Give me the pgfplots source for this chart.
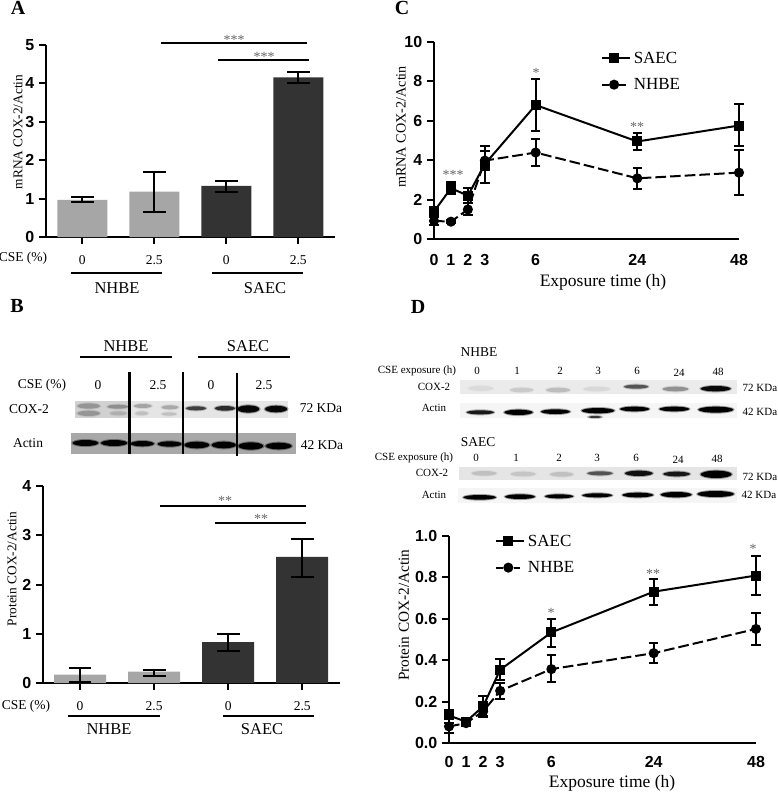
\documentclass[border=0pt]{standalone}
\usepackage{fontspec}
\setmainfont{Liberation Serif}
\setsansfont{Liberation Sans}
\usepackage{pgfplots}
\pgfplotsset{compat=1.18}

% sizes are given in reference pixels: 1 px = 0.75 pt
\newcommand{\fpx}[1]{\fontsize{\fpeval{#1*0.75}pt}{\fpeval{#1*0.9}pt}\selectfont}
% blot band: x left, x right, y centre, half height, darkness
\newcommand{\band}[5]{%
  \fill[black,opacity=0.35*#5] ({(#1+#2)/2},#3) ellipse [x radius={(#2-#1)/2+4},y radius={#4+3}];
  \fill[black,opacity=#5] ({(#1+#2)/2},#3) ellipse [x radius={(#2-#1)/2},y radius=#4];}

\definecolor{lightbar}{HTML}{A6A6A6}
\definecolor{darkbar}{HTML}{333333}
\definecolor{stargray}{HTML}{666666}

\pgfplotsset{
  panel/.style={
    scale only axis,
    axis lines=left,
    axis line style={-,line width=1.5pt},
    enlargelimits=false,
    clip=false,
    tick align=outside,
    major tick length=5.25pt,
    tick style={line width=1.5pt,black},
    tick label style={font=\sffamily\bfseries\fpx{16}},
    /pgf/number format/assume math mode=true,
    label style={font=\fpx{13.7}},
  },
  barpanel/.style={
    panel,
    ybar,
    bar shift=0pt,
    xtick={0,1,2,3},
    xticklabels={0,2.5,0,2.5},
    x tick label style={font=\fpx{13.5},yshift=-5pt},
  },
  barerr/.style={
    error bars/.cd,y dir=both,y explicit,
    error bar style={line width=1.5pt,black},
    error mark options={rotate=90,mark size=8.6pt,line width=1.5pt,black},
  },
  linepanel/.style={
    panel,
    xmin=0,xmax=18,
    xtick={0,1,2,3,6,12,18},
    xticklabels={0,1,2,3,6,24,48},
    x tick style={draw=none},
    legend cell align=left,
    legend style={draw=none,fill=none,font=\fpx{17},row sep=5.75pt,inner sep=0pt},
    legend image code/.code={
      \path (0pt,0pt) -- (21pt,0pt);
      \draw[##1] (0pt,0pt) -- (18pt,0pt);
      \draw[##1,solid] plot[only marks] coordinates {(9pt,0pt)};},
  },
  saec/.style={black,line width=1.5pt,mark=square*,mark size=3pt,mark options={solid}},
  nhbe/.style={black,line width=1.5pt,dash pattern=on 8pt off 3pt,mark=*,mark size=3pt,mark options={solid},
    legend image post style={dash pattern=on 5pt off 8pt}},
  lineerr/.style={
    error bars/.cd,y dir=both,y explicit,
    error bar style={line width=1.5pt,black,solid},
    error mark options={rotate=90,mark size=3.6pt,line width=1.5pt,black,solid},
  },
}

\begin{document}
\begin{tikzpicture}[x=0.75pt,y=-0.75pt]
\useasboundingbox (0,0) rectangle (778,793);
\coordinate (A) at (46,237);
\coordinate (B) at (43,683);
\coordinate (C) at (434,239);
\coordinate (D) at (449,743);

% ---------- A ----------
\begin{axis}[barpanel,at={(A)},anchor=south west,
    width=216.75pt,height=144pt,
    xmin=-0.504,xmax=3.51,ymin=0,ymax=5,ytick={0,1,2,3,4,5},
    bar width=37.5pt,
    every axis y label/.style={at={(axis description cs:-0.097,0.547)},rotate=90,anchor=center},
    ylabel={mRNA COX-2/Actin}]
\addplot[fill=lightbar,draw=none,barerr] table[x=x,y=y,y error plus=ep,y error minus=em] {
x y ep em
0 0.97 0.06 0.07
1 1.18 0.50 0.52
};
\addplot[fill=darkbar,draw=none,barerr] table[x=x,y=y,y error plus=ep,y error minus=em] {
x y ep em
2 1.33 0.13 0.15
3 4.16 0.14 0.16
};
\end{axis}

% ---------- B ----------
\begin{axis}[barpanel,at={(B)},anchor=south west,
    width=222.75pt,height=147.75pt,
    xmin=-0.5,xmax=3.51,ymin=0,ymax=4,ytick={0,1,2,3,4},
    bar width=39pt,
    every axis y label/.style={at={(axis description cs:-0.104,0.579)},rotate=90,anchor=center},
    ylabel={Protein COX-2/Actin}]
\addplot[fill=lightbar,draw=none,barerr] table[x=x,y=y,y error plus=ep,y error minus=em] {
x y ep em
0 0.17 0.13 0.15
1 0.23 0.03 0.08
};
\addplot[fill=darkbar,draw=none,barerr] table[x=x,y=y,y error plus=ep,y error minus=em] {
x y ep em
2 0.83 0.16 0.19
3 2.56 0.36 0.40
};
\end{axis}

% ---------- C ----------
% x is the plotted position: the axis is squeezed after 6 h, 24 h sits at 12 and 48 h at 18
\begin{axis}[linepanel,at={(C)},anchor=south west,
    width=228.75pt,height=147.75pt,
    ymin=0,ymax=10,ytick={0,2,4,6,8,10},
    x tick label style={yshift=-2.5pt},
    legend style={at={(0.547,0.965)},anchor=north west},
    every axis y label/.style={at={(axis description cs:-0.108,0.569)},rotate=90,anchor=center,font=\fpx{14.2}},
    every axis x label/.style={at={(axis description cs:0.554,-0.218)},anchor=center,font=\fpx{17.5}},
    ylabel={mRNA COX-2/Actin},xlabel={Exposure time (h)}]
\addplot[saec,lineerr] table[x=x,y=y,y error plus=ep,y error minus=em] {
x y ep em
0 1.39 0.22 0.24
1 2.58 0.32 0.28
2 2.20 0.38 0.35
3 3.80 0.90 0.94
6 6.80 1.32 1.33
12 4.95 0.42 0.45
18 5.76 1.09 1.03
};
\addlegendentry{SAEC}
\addplot[nhbe,lineerr] table[x=x,y=y,y error plus=ep,y error minus=em] {
x y ep em
0 0.92 0.18 0.22
1 0.88 0.10 0.08
2 1.50 0.35 0.30
3 3.98 0.47 0.48
6 4.39 0.71 0.68
12 3.08 0.50 0.52
18 3.37 1.16 1.15
};
\addlegendentry{NHBE}
\end{axis}

% ---------- D ----------
\begin{axis}[linepanel,at={(D)},anchor=south west,
    width=230.25pt,height=155.25pt,
    ymin=0,ymax=1,ytick={0,0.2,0.4,0.6,0.8,1},
    y tick label style={/pgf/number format/.cd,fixed,fixed zerofill,precision=1},
    x tick label style={yshift=-1.5pt},
    legend style={at={(0.15,1.02)},anchor=north west},
    every axis y label/.style={at={(axis description cs:-0.147,0.618)},rotate=90,anchor=center,font=\fpx{15.3}},
    every axis x label/.style={at={(axis description cs:0.531,-0.193)},anchor=center,font=\fpx{17.5}},
    ylabel={Protein COX-2/Actin},xlabel={Exposure time (h)}]
\addplot[saec,lineerr] table[x=x,y=y,y error plus=ep,y error minus=em] {
x y ep em
0 0.133 0.027 0.037
1 0.103 0.012 0.013
2 0.177 0.051 0.048
3 0.354 0.053 0.052
6 0.534 0.066 0.069
12 0.731 0.060 0.064
18 0.809 0.096 0.094
};
\addlegendentry{SAEC}
\addplot[nhbe,lineerr] table[x=x,y=y,y error plus=ep,y error minus=em] {
x y ep em
0 0.080 0.040 0.030
1 0.096 0.009 0.011
2 0.153 0.024 0.028
3 0.252 0.037 0.037
6 0.357 0.067 0.064
12 0.434 0.048 0.047
18 0.551 0.078 0.077
};
\addlegendentry{NHBE}
\end{axis}

% ---------- panel letters ----------
\begin{scope}[font=\bfseries\fpx{20}]
\node at (18,8) {A};
\node at (17,306) {B};
\node at (402,8) {C};
\node at (418,307) {D};
\end{scope}

% ---------- brackets, groups, stars ----------
\begin{scope}[line width=1pt]
\draw (161,43) -- (307,43);
\draw (218,60) -- (309,60);
\draw (71,273) -- (162,273);
\draw (212,273) -- (303,273);
\draw (68,716) -- (160,716);
\draw (223,716) -- (314,716);
\draw (160,506) -- (306,506);
\draw (215,523) -- (306,523);
\draw (80,357) -- (172,357);
\draw (198,357) -- (290,357);
\end{scope}
\begin{scope}[font=\fpx{16.5}]
\node at (117,288) {NHBE};
\node at (265,288) {SAEC};
\node at (109,729) {NHBE};
\node at (262,729) {SAEC};
\node at (126,346) {NHBE};
\node at (248,346) {SAEC};
\end{scope}
\begin{scope}[font=\fpx{13.5}]
\node at (23,258) {CSE (\%)};
\node at (26,706) {CSE (\%)};
\node at (42,385) {CSE (\%)};
\node at (98,385) {0};
\node at (158,385) {2.5};
\node at (211,385) {0};
\node at (264,385) {2.5};
\node at (29,409) {COX-2};
\node at (28,443) {Actin};
\node at (321,408) {72 KDa};
\node at (322,445) {42 KDa};
\end{scope}
\begin{scope}[stargray,font=\fpx{14},inner sep=0pt,every node/.style={yshift=-1.5pt}]
\node at (234,38) {***};
\node at (264,55) {***};
\node at (225,499) {**};
\node at (261,517) {**};
\node at (453,173) {***};
\node at (536,71) {*};
\node at (637,125) {**};
\node at (551,611) {*};
\node at (653,572) {**};
\node at (753,547) {*};
\end{scope}

% ---------- blots of B, in 3x crop units ----------
\begin{scope}[shift={(0,300)},x=0.25pt,y=-0.25pt]
\fill[black!10] (225,303) rectangle (865,353);
\fill[black!18] (225,303) rectangle (390,353);
\fill[black!34] (212,398) rectangle (887,462);
\band{232}{300}{318}{8}{0.22}
\band{232}{300}{340}{8}{0.22}
\band{322}{385}{320}{6}{0.25}
\band{330}{380}{340}{6}{0.12}
\band{402}{455}{318}{6}{0.22}
\band{405}{445}{340}{6}{0.12}
\band{485}{535}{322}{6}{0.2}
\band{485}{530}{342}{5}{0.12}
\band{558}{618}{325}{6}{0.65}
\band{645}{705}{325}{7}{0.75}
\band{712}{778}{327}{11}{0.95}
\band{795}{862}{327}{10}{0.95}
\band{218}{295}{429}{9}{1}
\band{303}{382}{429}{9}{1}
\band{392}{462}{431}{8}{1}
\band{473}{545}{432}{8}{1}
\band{553}{628}{435}{10}{1}
\band{635}{708}{435}{10}{1}
\band{715}{790}{438}{11}{1}
\band{797}{875}{438}{10}{1}
\fill[black] (385,215) rectangle (392,463);
\fill[black] (546,215) rectangle (553,463);
\fill[black] (707,220) rectangle (714,467);
\end{scope}

% ---------- blots of D, in 3x crop units ----------
\begin{scope}[shift={(370,295)},x=0.25pt,y=-0.25pt]
\fill[black!8] (270,255) rectangle (1100,297);
\fill[black!4] (270,325) rectangle (1100,370);
\fill[black!10] (268,515) rectangle (1100,555);
\fill[black!4] (265,580) rectangle (1100,625);
\band{295}{370}{280}{8}{0.05}
\band{420}{490}{285}{7}{0.1}
\band{528}{600}{285}{7}{0.15}
\band{640}{720}{282}{7}{0.06}
\band{762}{835}{275}{6}{0.55}
\band{878}{955}{282}{7}{0.3}
\band{992}{1082}{281}{8}{0.95}
\band{290}{372}{352}{6}{0.85}
\band{403}{488}{352}{8}{1}
\band{513}{600}{350}{7}{1}
\band{635}{733}{347}{8}{1}
\band{655}{695}{366}{3}{0.7}
\band{750}{838}{342}{7}{1}
\band{868}{958}{342}{7}{1}
\band{985}{1090}{344}{9}{1}
\band{305}{380}{535}{7}{0.12}
\band{422}{497}{537}{7}{0.1}
\band{540}{610}{538}{7}{0.12}
\band{652}{728}{535}{6}{0.55}
\band{765}{848}{535}{8}{0.9}
\band{880}{960}{537}{7}{0.85}
\band{992}{1085}{538}{11}{1}
\band{280}{378}{607}{7}{1}
\band{405}{495}{605}{7}{1}
\band{525}{610}{604}{6}{1}
\band{637}{727}{601}{6}{1}
\band{757}{850}{600}{7}{1}
\band{872}{965}{599}{8}{1}
\band{982}{1092}{597}{9}{1}
\end{scope}
\begin{scope}[font=\fpx{13.5}]
\node at (479,352) {NHBE};
\node at (478,442) {SAEC};
\end{scope}
\begin{scope}[font=\fpx{11}]
\node at (417,371) {CSE exposure (h)};
\node at (414,458) {CSE exposure (h)};
\node at (477,371) {0};
\node at (517,371) {1};
\node at (560,371) {2};
\node at (598,371) {3};
\node at (637,371) {6};
\node at (679,373) {24};
\node at (718,372) {48};
\node at (476,458) {0};
\node at (516,458) {1};
\node at (559,458) {2};
\node at (597,458) {3};
\node at (636,458) {6};
\node at (678,460) {24};
\node at (717,459) {48};
\node at (434,387) {COX-2};
\node at (434,408) {Actin};
\node at (432,473) {COX-2};
\node at (434,495) {Actin};
\node at (760,388) {72 KDa};
\node at (760,412) {42 KDa};
\node at (760,477) {72 KDa};
\node at (759,495) {42 KDa};
\end{scope}
\end{tikzpicture}
\end{document}
